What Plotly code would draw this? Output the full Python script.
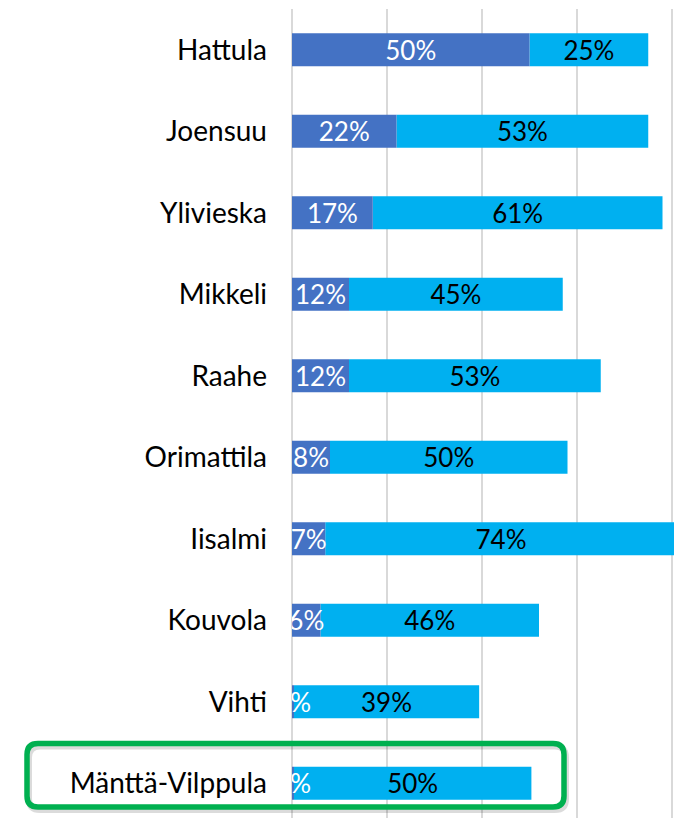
import plotly.graph_objects as go

# ---- data ----
categories = ["Hattula", "Joensuu", "Ylivieska", "Mikkeli", "Raahe",
              "Orimattila", "Iisalmi", "Kouvola", "Vihti", "Mänttä-Vilppula"]
dark_values = [0.50, 0.22, 0.17, 0.12, 0.12, 0.08, 0.07, 0.06, 0.004, 0.004]
light_values = [0.25, 0.53, 0.61, 0.45, 0.53, 0.50, 0.74, 0.46, 0.39, 0.50]
highlight = "Mänttä-Vilppula"

W, H = 674, 818
ML, MT = 292, 9
PW, PH = W - ML, H - MT

FONT = "Lato, 'Open Sans', sans-serif"

fig = go.Figure()
# light segment stacked on top of the dark one (explicit base), drawn first so
# the dark segment's labels sit above it
fig.add_trace(go.Bar(
    y=categories, x=light_values, base=dark_values, orientation="h",
    marker=dict(color="#00B0F0", line=dict(width=0)),
    texttemplate="%{x:.0%}", textposition="inside", constraintext="none",
    insidetextanchor="middle", textangle=0,
    insidetextfont=dict(color="black", size=26, family=FONT),
    cliponaxis=True, hoverinfo="skip", name="b",
))
fig.add_trace(go.Bar(
    y=categories, x=dark_values, orientation="h",
    marker=dict(color="#4472C4", line=dict(width=0)),
    texttemplate="%{x:.0%}", textposition="inside", constraintext="none",
    insidetextanchor="middle", textangle=0,
    insidetextfont=dict(color="white", size=26, family=FONT),
    cliponaxis=True, hoverinfo="skip", name="a",
))

# highlight box (pixel -> paper conversion)
def px(x):
    return (x - ML) / PW

def py(y):
    return (H - y) / PH

def rounded(x0, y0, x1, y1, r, dx=0, dy=0):
    x0 += dx; x1 += dx; y0 += dy; y1 += dy
    pts = [
        f"M {px(x0 + r)} {py(y0)}",
        f"L {px(x1 - r)} {py(y0)}",
        f"Q {px(x1)} {py(y0)} {px(x1)} {py(y0 + r)}",
        f"L {px(x1)} {py(y1 - r)}",
        f"Q {px(x1)} {py(y1)} {px(x1 - r)} {py(y1)}",
        f"L {px(x0 + r)} {py(y1)}",
        f"Q {px(x0)} {py(y1)} {px(x0)} {py(y1 - r)}",
        f"L {px(x0)} {py(y0 + r)}",
        f"Q {px(x0)} {py(y0)} {px(x0 + r)} {py(y0)}",
        "Z",
    ]
    return " ".join(pts)

fig.add_shape(type="path", xref="paper", yref="paper",
              path=rounded(27, 743.5, 564, 807, 11, dx=2, dy=3),
              line=dict(color="rgba(0,0,0,0.14)", width=6), layer="above")
fig.add_shape(type="path", xref="paper", yref="paper",
              path=rounded(27, 743.5, 564, 807, 11),
              line=dict(color="#00B050", width=5.5), layer="above")

fig.update_layout(
    width=W, height=H,
    margin=dict(l=ML, r=0, t=MT, b=0, pad=0),
    barmode="overlay", bargap=0.595,
    showlegend=False,
    plot_bgcolor="white", paper_bgcolor="white",
    font=dict(family=FONT, size=28, color="black"),
    xaxis=dict(range=[0, PW / 475], dtick=0.2, showgrid=True,
               gridcolor="#d9d9d9", gridwidth=2,
               zeroline=True, zerolinecolor="#d9d9d9", zerolinewidth=2,
               showticklabels=False, showline=False, fixedrange=True),
    yaxis=dict(categoryorder="array", categoryarray=categories,
               range=[-0.5 + PH / 81.5, -0.5], showgrid=False,
               zeroline=False, showline=False, ticks="",
               ticklabelstandoff=24,
               tickfont=dict(size=28, family=FONT, color="black"),
               fixedrange=True),
)

fig.write_html(
    "out.html",
    config={"displayModeBar": False},
    post_script="document.body.style.margin='0';document.body.style.overflow='hidden';",
)
